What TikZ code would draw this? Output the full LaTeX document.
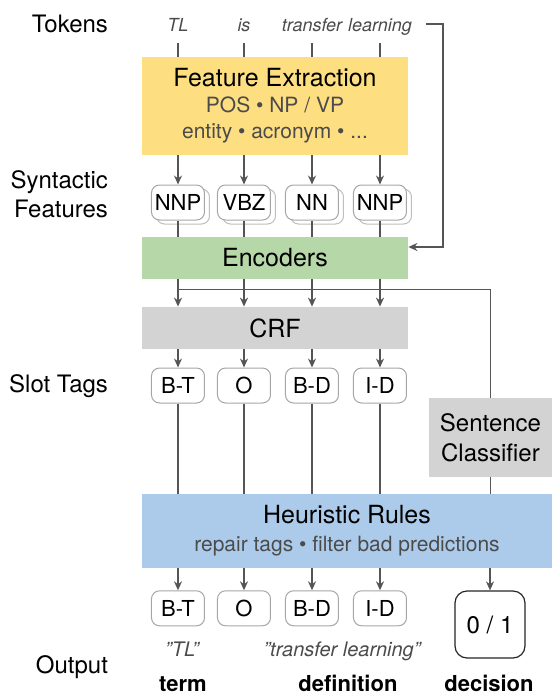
\documentclass[tikz,border=0pt]{standalone}
\usepackage{fontspec}
\setmainfont{TeX Gyre Heros}
\usepackage{xcolor}
\usetikzlibrary{arrows.meta, shadows}

\definecolor{featyellow}{RGB}{253,222,128}
\definecolor{encgreen}{RGB}{182,215,168}
\definecolor{crfgray}{RGB}{211,211,211}
\definecolor{rulesblue}{RGB}{172,203,234}
\definecolor{wiregray}{RGB}{85,85,85}
\definecolor{textgray}{RGB}{75,75,75}

\newcommand{\stagesub}[1]{{\fontsize{10.5}{12}\selectfont\color{textgray}#1}}
\newcommand{\dq}{\symbol{34}}

\tikzset{
	wire/.style={draw=wiregray, line width=0.75pt},
	arr/.style={-{Stealth[length=4.5pt, width=4pt]}},
	stage/.style={inner sep=0pt, align=center, font=\fontsize{12.5}{15}\selectfont},
	rowlabel/.style={anchor=east, align=right, font=\fontsize{12}{14.3}\selectfont},
	token/.style={anchor=base, text=textgray, font=\fontsize{9}{10}\selectfont\itshape, text height=6.5pt, text depth=2pt},
	tag/.style={draw=gray!70, line width=0.5pt, rounded corners=4pt, fill=white, minimum width=26.5pt, minimum height=17.5pt, inner sep=0pt, font=\fontsize{11}{13}\selectfont},
	feattag/.style={tag, copy shadow={shadow xshift=2.5pt, shadow yshift=-2pt, draw=gray!50, fill=white}},
	quote/.style={anchor=base, text=textgray, font=\fontsize{10}{12}\selectfont\itshape},
	outname/.style={anchor=base, font=\fontsize{11}{13}\selectfont\bfseries},
}

\begin{document}
\begin{tikzpicture}[x=0.5pt, y=-0.5pt]
	\useasboundingbox (0,0) rectangle (552,693);
	% Row labels:
	\node[rowlabel, anchor=base east] (lbltok) at (115, 32.3) {Tokens};
	\node[rowlabel] (lblsyn) at (115, 194) {Syntactic\\Features};
	\node[rowlabel, anchor=base east] (lblslot) at (115, 392.7) {Slot Tags};
	\node[rowlabel, anchor=base east] (lblout) at (115, 673.3) {Output};
	% Tokens:
	\node[token] (t1) at (178, 31.7) {TL};
	\node[token] (t2) at (244, 31.7) {is};
	\node[token] (t3) at (312, 31.7) {transfer};
	\node[token] (t4) at (380, 31.7) {learning};
	% Stages:
	\node[stage, fill=featyellow, minimum width=133pt, minimum height=49pt, font=\fontsize{12.5}{13}\selectfont] (feat) at (275, 106) {Feature Extraction\\ \stagesub{POS \textbullet{} NP / VP}\\ \stagesub{entity \textbullet{} acronym \textbullet{} ...}};
	\node[stage, fill=encgreen, minimum width=133pt, minimum height=21pt] (enc) at (275, 258) {Encoders};
	\node[stage, fill=crfgray, minimum width=133pt, minimum height=21pt] (crf) at (275, 328) {CRF};
	\node[stage, fill=crfgray, minimum width=61.5pt, minimum height=39.5pt, font=\fontsize{12}{15}\selectfont] (cls) at (490.5, 437.5) {Sentence\\Classifier};
	\node[stage, fill=rulesblue, minimum width=205pt, minimum height=36.75pt, font=\fontsize{12.5}{14}\selectfont] (rules) at (347, 530.75) {Heuristic Rules\\ \stagesub{repair tags \textbullet{} filter bad predictions}};
	% Syntactic features:
	\node[feattag] (f1) at (178, 202.5) {NNP};
	\node[feattag] (f2) at (244, 202.5) {VBZ};
	\node[feattag] (f3) at (312, 202.5) {NN};
	\node[feattag] (f4) at (380, 202.5) {NNP};
	% Slot tags:
	\node[tag] (s1) at (178, 385.5) {B-T};
	\node[tag] (s2) at (244, 385.5) {O};
	\node[tag] (s3) at (312, 385.5) {B-D};
	\node[tag] (s4) at (380, 385.5) {I-D};
	% Output:
	\node[tag] (o1) at (178, 608.3) {B-T};
	\node[tag] (o2) at (244, 608.3) {O};
	\node[tag] (o3) at (312, 608.3) {B-D};
	\node[tag] (o4) at (380, 608.3) {I-D};
	\node[tag, draw=black!85, line width=0.6pt, rounded corners=6pt, minimum width=35pt, minimum height=33.5pt, font=\fontsize{12}{14}\selectfont] (dec) at (490, 624.5) {0 / 1};
	\node[quote] (qterm) at (182, 656.7) {\dq TL\dq};
	\node[quote] (qdef) at (342, 656.7) {\dq transfer learning\dq};
	\node[outname] (nterm) at (183, 691) {term};
	\node[outname] (ndef) at (348, 691) {definition};
	\node[outname] (ndec) at (489, 691) {decision};
	% Wires:
	\draw[wire] (t1) -- (t1 |- feat.north);
	\draw[wire] (t2) -- (t2 |- feat.north);
	\draw[wire] (t3) -- (t3 |- feat.north);
	\draw[wire] (t4) -- (t4 |- feat.north);
	\coordinate (brk) at (426, 24);
	\draw[wire, arr] (brk) -- ++(17, 0) |- ([yshift=5.5pt]enc.east);
	\draw[wire, arr] (feat.south -| f1) -- (f1);
	\draw[wire, arr] (feat.south -| f2) -- (f2);
	\draw[wire, arr] (feat.south -| f3) -- (f3);
	\draw[wire, arr] (feat.south -| f4) -- (f4);
	\draw[wire] (f1) -- (f1 |- enc.north);
	\draw[wire] (f2) -- (f2 |- enc.north);
	\draw[wire] (f3) -- (f3 |- enc.north);
	\draw[wire] (f4) -- (f4 |- enc.north);
	\draw[wire, arr] (enc.south -| f1) -- (f1 |- crf.north);
	\draw[wire, arr] (enc.south -| f2) -- (f2 |- crf.north);
	\draw[wire, arr] (enc.south -| f3) -- (f3 |- crf.north);
	\draw[wire, arr] (enc.south -| f4) -- (f4 |- crf.north);
	\draw[wire] ([yshift=-5pt]enc.south -| f1) -| (cls);
	\draw[wire, arr] (crf.south -| s1) -- (s1);
	\draw[wire, arr] (crf.south -| s2) -- (s2);
	\draw[wire, arr] (crf.south -| s3) -- (s3);
	\draw[wire, arr] (crf.south -| s4) -- (s4);
	\draw[wire] (s1) -- (s1 |- rules.north);
	\draw[wire] (s2) -- (s2 |- rules.north);
	\draw[wire] (s3) -- (s3 |- rules.north);
	\draw[wire] (s4) -- (s4 |- rules.north);
	\draw[wire] (cls) -- (cls |- rules.north);
	\draw[wire, arr] (rules.south -| o1) -- (o1);
	\draw[wire, arr] (rules.south -| o2) -- (o2);
	\draw[wire, arr] (rules.south -| o3) -- (o3);
	\draw[wire, arr] (rules.south -| o4) -- (o4);
	\draw[wire, arr] (rules.south -| dec) -- (dec);
\end{tikzpicture}
\end{document}
